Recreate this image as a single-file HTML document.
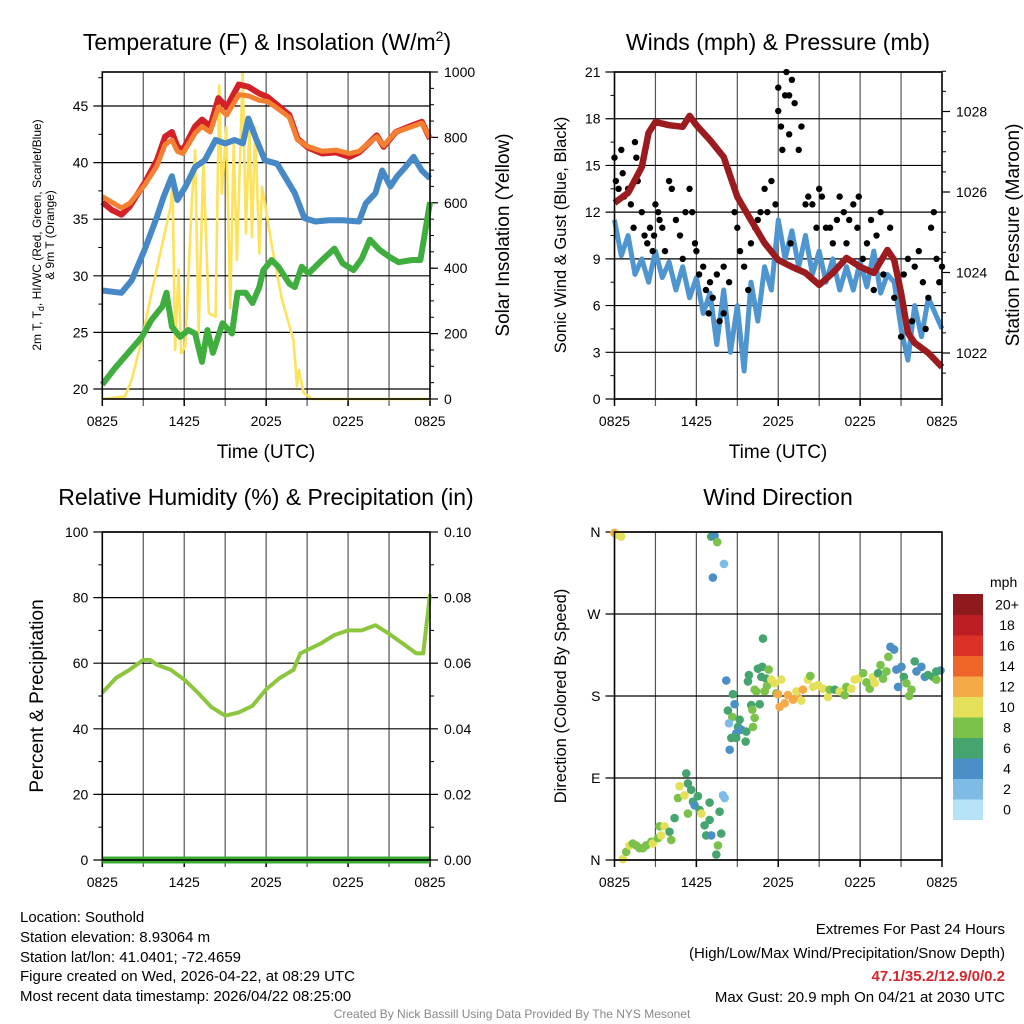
<!DOCTYPE html>
<html><head><meta charset="utf-8"><title>Southold Mesonet Meteogram</title>
<style>
html,body{margin:0;padding:0;background:#fff;}
svg{display:block;font-family:"Liberation Sans",Arial,sans-serif;}
</style></head>
<body>
<svg id="chart" width="1024" height="1024" viewBox="0 0 1024 1024" xmlns="http://www.w3.org/2000/svg">
<rect x="0" y="0" width="1024" height="1024" fill="#fff"/>
<g font-size="23" text-anchor="middle" fill="#000">
<text x="267" y="50">Temperature (F) &amp; Insolation (W/m<tspan dy="-9" font-size="14">2</tspan><tspan dy="9">)</tspan></text>
<text x="778" y="50">Winds (mph) &amp; Pressure (mb)</text>
<text x="266" y="505">Relative Humidity (%) &amp; Precipitation (in)</text>
<text x="778" y="505">Wind Direction</text>
</g>
<g font-size="19" text-anchor="middle">
<text x="266" y="458">Time (UTC)</text>
<text x="778" y="458">Time (UTC)</text>
<text transform="translate(509,235) rotate(-90)">Solar Insolation (Yellow)</text>
<text transform="translate(1019,235) rotate(-90)">Station Pressure (Maroon)</text>
<text transform="translate(43,696) rotate(-90)">Percent &amp; Precipitation</text>
</g>
<g font-size="16.5" text-anchor="middle">
<text transform="translate(566,235) rotate(-90)">Sonic Wind &amp; Gust (Blue, Black)</text>
<text transform="translate(566,696) rotate(-90)">Direction (Colored By Speed)</text>
</g>
<g font-size="12" text-anchor="middle">
<text transform="translate(41,235) rotate(-90)">2m T, T<tspan font-size="9" dy="3">d</tspan><tspan dy="-3">, HI/WC (Red, Green, Scarlet/Blue)</tspan></text>
<text transform="translate(54,235) rotate(-90)">&amp; 9m T (Orange)</text>
</g>
<g font-size="15" fill="#000">
<text x="20" y="922">Location: Southold</text>
<text x="20" y="942">Station elevation: 8.93064 m</text>
<text x="20" y="962">Station lat/lon: 41.0401; -72.4659</text>
<text x="20" y="981">Figure created on Wed, 2026-04-22, at 08:29 UTC</text>
<text x="20" y="1001">Most recent data timestamp: 2026/04/22 08:25:00</text>
</g>
<g font-size="15" text-anchor="end">
<text x="1005" y="934">Extremes For Past 24 Hours</text>
<text x="1005" y="958">(High/Low/Max Wind/Precipitation/Snow Depth)</text>
<text x="1005" y="981" font-weight="bold" fill="#d7262b">47.1/35.2/12.9/0/0.2</text>
<text x="1005" y="1002">Max Gust: 20.9 mph On 04/21 at 2030 UTC</text>
</g>
<text x="512" y="1018" font-size="12" fill="#888" text-anchor="middle">Created By Nick Bassill Using Data Provided By The NYS Mesonet</text>
<g id="layer"></g>
</svg>
<script>
// ---------- data ----------
const timeLabels = ["0825","1425","2025","0225","0825"];
// Temperature panel (hours since 0825 UTC)
const redT = [0,0.7,1.4,2,3.1,4,4.6,5.1,5.5,5.9,6.8,7.3,7.9,8.5,9.1,10,10.7,11.5,12.1,12.7,13.7,14.3,15.1,16.1,17.1,18.1,18.8,19.5,20.1,20.6,21.5,22.5,23.4,24];
const redV = [36.5,35.8,35.4,36.1,38.2,40.2,42.3,42.7,41.4,41.1,43.2,43.8,43.2,45.7,44.9,46.9,46.7,46.1,45.8,45.2,44.2,42.1,41.3,40.8,40.9,40.5,40.9,41.7,42.4,41.4,42.7,43.2,43.6,42.1];
const orangeV = [37.0,36.5,36.0,36.4,38.0,39.7,41.6,42.0,41.0,40.8,42.6,43.2,42.7,44.9,44.2,46.0,45.9,45.5,45.4,44.9,44.0,42.0,41.4,41.0,41.1,40.8,41.0,41.7,42.3,41.5,42.7,43.1,43.5,42.2];
const blueT = [0,1.4,2.15,3.1,4,4.5,5.1,5.5,6.1,6.8,7.5,8.3,9,9.7,10.3,10.7,11.2,11.9,12.8,13.5,14.1,14.8,15.6,16.6,17.6,18.8,19.3,20,20.5,21.1,21.6,22.2,22.8,23.4,24];
const blueV = [28.7,28.5,29.6,32.3,35.2,37,38.8,36.7,37.9,39.6,40.2,42,41.7,42,41.7,43.9,42.3,40.2,39.9,38.5,37.3,35.1,34.8,34.9,34.9,34.8,36.4,37.3,39.3,37.9,38.8,39.6,40.5,39.3,38.6];
const greenT = [0,0.9,1.9,2.9,3.6,4.4,4.7,5.1,5.7,6.3,6.8,7.3,7.7,8.1,8.8,9.5,9.9,10.5,11,11.5,11.8,12.4,12.9,13.7,14.1,14.6,15.1,16.1,17,17.6,18.4,19,19.6,20.3,21,21.7,22.7,23.3,23.7,24];
const greenV = [20.4,21.8,23.2,24.6,26.1,27.3,28.5,25.5,24.6,25.2,24.9,22.4,25.2,23.2,25.8,24.9,28.5,28.5,27.6,29,30.5,31.4,30.8,29.3,29,30.8,30.2,31.4,32.4,31.1,30.5,31.5,33.2,32.3,31.7,31.2,31.4,31.4,34.3,36.5];
const solarT = [0,1.66,2.15,2.9,3.6,4.35,5,5.14,5.33,5.58,5.77,6.07,6.56,6.8,7.05,7.4,7.8,8.3,8.56,8.76,9.08,9.37,9.62,9.86,10.28,10.52,10.77,10.96,11.2,11.5,11.7,12.43,13.16,14.0,14.26,14.4,14.75,15.4,24];
const solarV = [0,8,59,181,323,466,588,664,150,395,140,161,608,761,201,730,262,252,959,628,832,278,781,425,1000,506,842,496,832,445,649,466,303,181,39,89,18,0,0];
// Winds panel
const windT = [0,0.5,1,1.5,2,2.5,3,3.5,4,4.5,5,5.5,6,6.5,7,7.5,8,8.5,9,9.5,10,10.5,11,11.5,12,12.5,13,13.5,14,14.5,15,15.5,16,16.5,17,17.5,18,18.5,19,19.5,20,20.5,21,21.5,22,22.5,23,23.5,24];
const windV = [11.5,9.2,10.5,8,9,7.5,9.5,7.8,8.8,7,8.5,6.5,7.8,5.5,6.8,3.5,7,3,6,1.8,7.5,5,8.5,7,11.5,9,10.8,8.5,10.5,8,9.5,7.5,9,7,8.5,7,8.8,7.2,9.5,6.8,8,7.5,4.5,2.5,6,4,6.5,5.5,4.5];
const gustT = [0,0.1,0.3,0.5,0.6,0.7,1,1.2,1.5,1.6,1.7,1.4,2,2.2,2.4,2.6,2.8,2.9,3,3.2,3.3,3.5,3.7,4,4.2,4.5,4.8,5,5.2,5.5,5.7,5.9,6,6.2,6.5,6.7,6.9,7,7.2,7.5,7.7,8,8,8.4,8.8,9,9.2,9.5,9.8,10,10.3,10.5,10.7,11,11.2,11.5,11.8,12,12,12.2,12.3,12.5,12.6,12.8,13,13.2,12.8,13.5,13.7,12.9,14,14.2,14.5,14.8,15,15.2,15.5,15.8,16,16.3,16.5,16.8,17,17.2,17.5,17.8,17.9,18,18.2,18.5,18.8,19,19.2,19.5,19.7,20,20.2,20.5,21,21.2,21.5,21.8,22,22.3,22.6,22.8,23,23.2,23.4,23.6,23.8,24];
const gustV = [15.5,14,13.5,16,14.5,13,13.5,12.5,16.5,15.5,14,11,12,10.5,10,11,9.5,10.5,12.5,12,11.5,11,9.5,14,13.5,11.5,10.5,9,12,13.5,12,10,9.5,8,8.5,7,5.5,7.5,6.5,8,5,5.5,8.5,7.5,12,11,9.5,8.5,7,10,11,11.5,12,13.5,12,14,12.5,20,18.5,17.5,16,19.5,21,19.5,20.5,19,17,16,17.5,10,12.5,13,12.5,11,13.5,13,11,11,10,11.5,13,12,10,11.5,12.5,11,13,8.5,9,10,11.5,7,10.5,12,8,9.5,11,6.5,4,8,9,5,8.5,9.5,7.5,4.5,6.5,11,12,9,7.5,8.5];
const presT = [0,1,2,2.5,3,4,5,5.5,6,7,8,9,10,11,12,13,14,15,16,17,18,19,20,20.5,21,21.5,22,23,24];
const presV = [1025.73,1025.98,1026.62,1027.47,1027.74,1027.66,1027.62,1027.89,1027.66,1027.29,1026.87,1025.88,1025.3,1024.73,1024.31,1024.14,1023.99,1023.69,1023.99,1024.36,1024.14,1023.99,1024.56,1024.31,1023.49,1022.5,1022.25,1022.0,1021.65];
// Humidity panel
const rhT = [0,1,2,3,3.5,4,5,6,7,8,9,10,11,12,13,14,14.5,15,16,17,18,19,20,21,22,23,23.5,24];
const rhV = [51,55.5,58,61,61,59.5,58,55,51,46.6,44,45,47,52,55.5,58,63,64,66,68.6,70,70,71.6,69,66,63,63,81];
const precipT = [0,24];
const precipV = [0,0];
// Wind direction panel
const dirT = [0,0.24,0.49,0.61,0.86,1.1,1.34,1.59,1.83,2.08,2.32,2.69,2.81,3.18,3.3,3.67,3.42,4.03,4.16,4.4,4.65,4.77,5.13,5.26,5.38,5.62,5.75,5.87,6.11,6.23,6.36,5.38,6.6,6.72,6.97,6.97,7.09,7.7,7.82,7.58,7.46,7.95,8.07,7.09,7.33,7.53,8.02,7.21,8.19,8.68,8.8,8.31,8.63,8.39,9.17,9.05,9.29,8.92,8.56,8.92,9.66,9.61,8.44,10.02,10.1,10.27,10.15,10.64,9.85,9.78,10.51,10.83,10.88,10.76,11.3,11.12,10.27,10.39,11.0,11.17,11.49,11.74,12.22,11.86,11.98,12.1,12.47,12.71,13.08,13.45,13.69,13.33,13.81,14.18,14.35,14.55,14.91,15.28,15.65,15.77,16.14,16.5,16.87,16.99,17.36,17.6,17.85,18.22,18.46,18.7,18.95,19.07,19.32,19.49,19.68,19.93,20.07,20.22,20.49,20.66,20.78,21.03,21.2,21.39,21.59,21.76,22.0,22.13,22.49,22.74,22.98,23.35,23.59,23.89,23.59];
const dirDeg = [359,357,355,1,9,16,18,16,13,13,16,20,18,24,37,37,27,31,22,46,68,81,71,95,84,77,64,60,70,55,51,51,38,27,44,63,27,53,29,16,6,71,68,355,356,349,325,310,197,182,171,164,157,150,154,146,143,139,134,134,141,130,121,170,165,156,146,171,203,196,210,212,243,201,209,199,187,185,185,191,198,194,198,183,182,168,172,181,176,178,175,185,187,198,202,190,192,188,179,187,187,185,181,190,188,198,199,205,195,188,201,194,205,214,199,207,223,234,231,209,190,212,201,194,180,187,218,207,212,201,203,201,198,208,207];
const dirSpd = [12,10,10,10,8,10,8,8,8,8,8,8,10,8,8,10,10,6,8,6,8,10,10,6,6,6,6,4,6,6,10,8,6,6,6,6,4,6,6,8,6,2,2,6,4,8,2,4,4,6,4,6,8,2,6,6,4,4,6,6,6,6,4,6,8,8,8,6,6,6,6,6,6,6,8,6,8,8,8,8,10,10,10,8,12,12,12,12,12,12,10,10,12,10,8,10,10,10,10,8,6,10,8,8,10,10,10,8,8,8,10,10,6,8,8,8,8,4,4,4,4,4,6,8,8,8,6,4,4,4,6,6,8,4,6];
const cbLabels = ["0","2","4","6","8","10","12","14","16","18","20+"];
const cbColors = ["#b7e3f8","#7ebbe5","#4a8fc7","#46a56e","#7bc24a","#e5e05a","#f5a947","#ef6429","#dc3127","#bb1e25","#8e1a1e"];
const tempTicks = [20,25,30,35,40,45];
const solarTicks = [0,200,400,600,800,1000];
const windTicks = [0,3,6,9,12,15,18,21];
const presTicks = [1022,1024,1026,1028];
const rhTicks = [0,20,40,60,80,100];
const precipTicks = ["0.00","0.02","0.04","0.06","0.08","0.10"];
const dirTicks = [0,90,180,270,360];
const dirTickLabels = ["N","E","S","W","N"];

// ---------- helpers ----------
const NS = "http://www.w3.org/2000/svg";
const layer = document.getElementById("layer");
function mk(tag, attrs, parent) {
  const e = document.createElementNS(NS, tag);
  for (const k in attrs) e.setAttribute(k, attrs[k]);
  (parent || layer).appendChild(e);
  return e;
}
const P = {
  temp: {x0: 102.3, x1: 430, y0: 72, y1: 399},
  wind: {x0: 614.5, x1: 942, y0: 72, y1: 399},
  rh: {x0: 102.3, x1: 430, y0: 532, y1: 860},
  dir: {x0: 614.5, x1: 942, y0: 532, y1: 860}
};
function xs(p, t) { return p.x0 + t * (p.x1 - p.x0) / 24; }
const yTemp = v => 389 - (v - 20) * 11.32;
const ySolar = w => 399 - w * 0.327;
const yWind = v => 399 - v * 15.57;
const yPres = p => 353 - (p - 1022) * 40.25;
const yRh = v => 860 - v * 3.28;
const yPrecip = v => 860 - v * 3280;
const yDir = d => 860 - d * 328 / 360;
function spdColor(s) { let i = Math.round(s / 2); if (i > 10) i = 10; if (i < 0) i = 0; return cbColors[i]; }
function pathD(p, ts, vs, yf) {
  let d = "";
  for (let i = 0; i < ts.length; i++) d += (i ? "L" : "M") + xs(p, ts[i]).toFixed(1) + "," + yf(vs[i]).toFixed(1);
  return d;
}

function frame(p, key, leftTicks, leftF, leftLabels, rightTicks, rightF, rightLabels, leftMinor, rightMinor) {
  let el;
  // vertical grid
  for (let h = 3; h <= 21; h += 3) {
    el = mk("line", {x1: xs(p, h), x2: xs(p, h), y1: p.y0, y2: p.y1 + 7, stroke: "#555", "stroke-width": 1.2});
    
    
  }
  for (let i = 0; i < 5; i++) {
    const x = xs(p, i * 6);
    el = mk("line", {x1: x, x2: x, y1: p.y1, y2: p.y1 + 7, stroke: "#000", "stroke-width": 1.5});
    
    
    el = mk("text", {x: x, y: p.y1 + 27, "font-size": 14, "text-anchor": "middle"});
    el.textContent = timeLabels[i];
    
    
  }
  // horizontal grid + left labels
  leftTicks.forEach((v, i) => {
    const y = leftF(v);
    el = mk("line", {x1: p.x0 - 9, x2: p.x1, y1: y, y2: y, stroke: "#000", "stroke-width": 1.2});
    
    
    el = mk("text", {x: p.x0 - 14, y: y + 5, "font-size": 14, "text-anchor": "end"});
    el.textContent = leftLabels[i];
    
    
  });
  leftMinor.forEach(v => {
    el = mk("line", {x1: p.x0 - 4, x2: p.x0, y1: leftF(v), y2: leftF(v), stroke: "#000", "stroke-width": 1});
    
    
  });
  rightTicks.forEach((v, i) => {
    const y = rightF(v);
    el = mk("line", {x1: p.x1, x2: p.x1 + 8, y1: y, y2: y, stroke: "#000", "stroke-width": 1.2});
    
    
    el = mk("text", {x: p.x1 + 14, y: y + 5, "font-size": 14, "text-anchor": "start"});
    el.textContent = rightLabels[i];
    
    
  });
  rightMinor.forEach(v => {
    el = mk("line", {x1: p.x1, x2: p.x1 + 4, y1: rightF(v), y2: rightF(v), stroke: "#000", "stroke-width": 1});
    
    
  });
}
function border(p, key) {
  const el = mk("rect", {x: p.x0, y: p.y0, width: p.x1 - p.x0, height: p.y1 - p.y0, fill: "none", stroke: "#000", "stroke-width": 1.6});
  
  
}
function range(a, b, s) { const r = []; for (let v = a; v <= b + 1e-9; v += s) r.push(+v.toFixed(3)); return r; }
let el;

// ---------- temperature panel ----------
frame(P.temp, "temperature", tempTicks, yTemp, tempTicks.map(String), solarTicks, ySolar, solarTicks.map(String), range(22.5, 47.5, 5), range(50, 950, 50));
el = mk("path", {d: pathD(P.temp, solarT, solarV, ySolar), fill: "none", stroke: "#fde25c", "stroke-width": 2.6, "stroke-linejoin": "round"});


el = mk("path", {d: pathD(P.temp, greenT, greenV, yTemp), fill: "none", stroke: "#3fae3f", "stroke-width": 6, "stroke-linejoin": "round"});


el = mk("path", {d: pathD(P.temp, blueT, blueV, yTemp), fill: "none", stroke: "#4689c6", "stroke-width": 6, "stroke-linejoin": "round"});


el = mk("path", {d: pathD(P.temp, redT, redV, yTemp), fill: "none", stroke: "#d42027", "stroke-width": 6, "stroke-linejoin": "round"});


el = mk("path", {d: pathD(P.temp, redT, orangeV, yTemp), fill: "none", stroke: "#f48131", "stroke-width": 5, "stroke-linejoin": "round"});


border(P.temp, "temperature");

// ---------- wind panel ----------
frame(P.wind, "winds", windTicks, yWind, windTicks.map(String), presTicks, yPres, presTicks.map(String), range(1.5, 19.5, 3), range(1021.5, 1029, 0.5));
el = mk("path", {d: pathD(P.wind, windT, windV, yWind), fill: "none", stroke: "#4f95d0", "stroke-width": 5, "stroke-linejoin": "round"});


gustT.forEach((t, i) => {
  el = mk("circle", {cx: xs(P.wind, t), cy: yWind(gustV[i]), r: 3.2, fill: "#000"});
  
  
});
el = mk("path", {d: pathD(P.wind, presT, presV, yPres), fill: "none", stroke: "#9b1b1e", "stroke-width": 6.5, "stroke-linejoin": "round"});


border(P.wind, "winds");

// ---------- humidity panel ----------
frame(P.rh, "humidity", rhTicks, yRh, rhTicks.map(String), precipTicks.map(Number), yPrecip, precipTicks, range(10, 90, 20), range(0.01, 0.09, 0.02));
el = mk("path", {d: pathD(P.rh, rhT, rhV, yRh), fill: "none", stroke: "#8cc63f", "stroke-width": 4, "stroke-linejoin": "round"});


el = mk("path", {d: pathD(P.rh, precipT, precipV, yPrecip), fill: "none", stroke: "#3aaa35", "stroke-width": 7});


border(P.rh, "humidity");

// ---------- wind direction panel ----------
frame(P.dir, "direction", dirTicks, yDir, dirTickLabels, [], yDir, [], [], []);
dirT.forEach((t, i) => {
  el = mk("circle", {cx: xs(P.dir, t), cy: yDir(dirDeg[i]), r: 4.3, fill: spdColor(dirSpd[i])});
  
  
});
border(P.dir, "direction");

// colorbar
const cbx = 953, cbTop = 594, cbH = 20.5;
el = mk("text", {x: 990, y: 587, "font-size": 14, "text-anchor": "start"});
el.textContent = "mph";


for (let i = 0; i < cbColors.length; i++) {
  const y = cbTop + (cbColors.length - 1 - i) * cbH;
  el = mk("rect", {x: cbx, y: y, width: 30, height: cbH + 0.5, fill: cbColors[i]});
  
  
  el = mk("text", {x: 1007, y: y + cbH / 2 + 5, "font-size": 14, "text-anchor": "middle"});
  el.textContent = cbLabels[i];
  
  
}
</script>
</body></html>
